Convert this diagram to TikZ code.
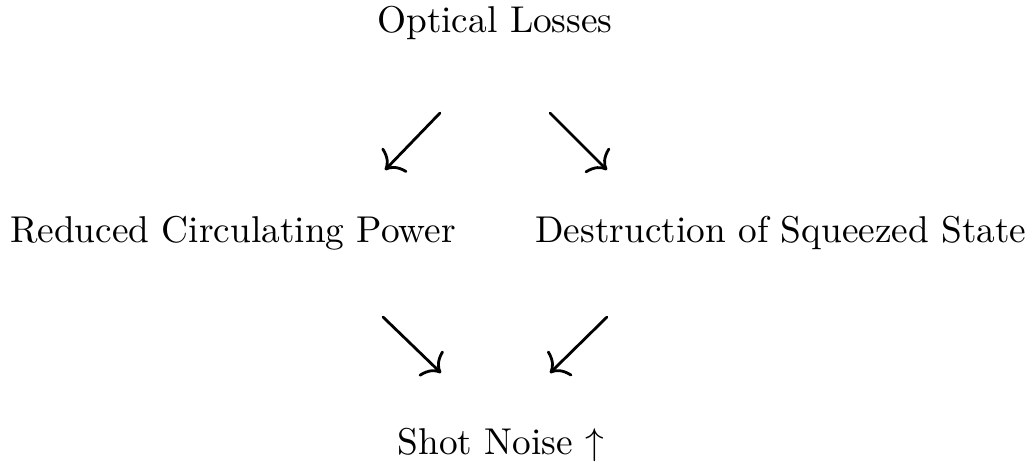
\documentclass[tikz,border=0pt]{standalone}
\usepackage{amsmath, amssymb}
\usepackage{tikz}
\usetikzlibrary{arrows.meta}
\tikzset{
  lbl/.style={inner sep=0pt, anchor=base},
  flow/.style={-{Computer Modern Rightarrow[length=4pt, width=9.4pt]}, line width=0.75pt, line cap=round},
}

\begin{document}
\begin{tikzpicture}[x=0.268pt, y=-0.268pt]
    \useasboundingbox (0,0) rectangle (1033,464);

    \node[lbl] (losses) at (495,33) {Optical Losses};
    \node[lbl] (power) at (233,243) {Reduced Circulating Power};
    \node[lbl] (squeeze) at (781,243) {Destruction of Squeezed State};
    \node[lbl] (noise) at (501,455) {Shot Noise $\uparrow$};

    % arrow ends
    \coordinate (a1s) at (440,113);
    \coordinate (a1e) at (385,170);
    \coordinate (a2s) at (550,113);
    \coordinate (a2e) at (607,170);
    \coordinate (a3s) at (383,317);
    \coordinate (a3e) at (441,373);
    \coordinate (a4s) at (607,317);
    \coordinate (a4e) at (550,373);

    \draw[flow] (a1s) -- (a1e);
    \draw[flow] (a2s) -- (a2e);
    \draw[flow] (a3s) -- (a3e);
    \draw[flow] (a4s) -- (a4e);
\end{tikzpicture}
\end{document}
